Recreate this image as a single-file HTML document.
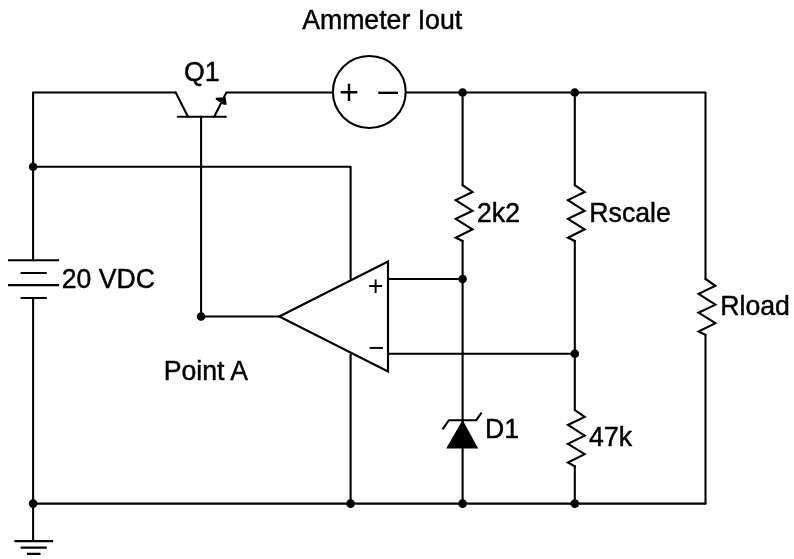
<!DOCTYPE html>
<html>
<head>
<meta charset="utf-8">
<title>Current regulator circuit</title>
<style>
  html, body { margin: 0; padding: 0; background: #ffffff; }
  body { width: 794px; height: 559px; overflow: hidden; }
  svg { display: block; filter: grayscale(1); }
  .w { fill: none; stroke: #000; stroke-width: 2.1; stroke-linecap: round; stroke-linejoin: round; }
  .p { fill: none; stroke: #000; stroke-width: 2.1; stroke-linecap: butt; }
  .z { fill: none; stroke: #000; stroke-width: 2.1; stroke-linecap: butt; stroke-linejoin: miter; stroke-miterlimit: 10; }
  .o { fill: none; stroke: #000; stroke-width: 2.15; stroke-linejoin: miter; stroke-miterlimit: 10; }
  .d { fill: #000; stroke: none; }
  text { font-family: "Liberation Sans", sans-serif; font-size: 26.67px; fill: #000; stroke: #000; stroke-width: 0.45px; stroke-linejoin: round; }
  text.pm { stroke: none; }
</style>
</head>
<body>
<svg width="794" height="559" viewBox="0 0 794 559">
  <rect x="0" y="0" width="794" height="559" fill="#ffffff"/>

  <!-- left rail: top-left corner, battery, ground -->
  <path class="w" d="M175.7 92.5 H33.1 V260.2"/>
  <path class="w" d="M33.1 298 V541"/>
  <!-- battery plates -->
  <path class="p" d="M8.0 260.3 H59.1 M20.6 273 H46.8 M8.0 285.1 H59.1 M20.6 298 H46.8"/>
  <!-- ground -->
  <path class="p" d="M14.3 541.1 H53.1 M20.6 547.6 H46.8 M26.9 553.9 H40.5"/>

  <!-- transistor Q1 -->
  <path class="w" d="M175.7 92.5 L188.0 116.7"/>
  <path class="w" d="M177.8 116.7 H225.9"/>
  <path class="w" d="M214.2 116.7 L226.4 92.5 H333"/>
  <path class="d" d="M215.8 97.8 L225.6 97.2 L226.8 104.7 L223.6 104.8 L219.6 101.9 L215.8 99.6 Z"/>
  <!-- base wire to Point A -->
  <path class="w" d="M201.1 116.7 V316.5 H279"/>

  <!-- op-amp supply wires -->
  <path class="w" d="M33.1 166.7 H350.6 V279"/>
  <path class="w" d="M350.6 354.5 V503.6"/>

  <!-- op-amp -->
  <path class="o" d="M279.3 316.5 L388 261.6 V371.5 Z"/>
  <path class="w" d="M388.5 279 H462.6"/>
  <path class="w" d="M388.5 353.8 H574.8"/>

  <!-- ammeter -->
  <ellipse cx="369.3" cy="92.0" rx="36.4" ry="36.0" fill="none" stroke="#000" stroke-width="2.1"/>
  <path class="w" d="M406 92.5 H705.5 V279"/>

  <!-- 2k2 + zener column -->
  <path class="w" d="M462.6 92.5 V185.1"/>
  <path class="z" d="M462.6 184.6 L462.6 185.1 L472.5 192.0 L455.7 200.1 L472.5 210.8 L455.7 218.9 L472.5 229.3 L455.7 237.7 L462.6 241.0 L462.6 241.5"/>
  <path class="w" d="M462.6 241 V503.6"/>
  <!-- zener -->
  <path class="z" d="M442.5 429.3 L448.9 420.2 H476.3 L481.6 412.5"/>
  <path class="d" d="M462.6 420 L478.2 448.6 H446.2 Z"/>

  <!-- Rscale + 47k column -->
  <path class="w" d="M574.8 92.5 V185.1"/>
  <path class="z" d="M574.8 184.6 L574.8 185.1 L584.7 192.0 L567.9 200.1 L584.7 210.8 L567.9 218.9 L584.7 229.3 L567.9 237.7 L574.8 241.0 L574.8 241.5"/>
  <path class="w" d="M574.8 241 V410.0"/>
  <path class="z" d="M574.8 409.5 L574.8 410.0 L584.7 416.9 L567.9 425.0 L584.7 435.7 L567.9 443.8 L584.7 454.2 L567.9 462.6 L574.8 466.2 L574.8 466.7"/>
  <path class="w" d="M574.8 466.2 V503.6"/>

  <!-- Rload column -->
  <path class="z" d="M705.5 278.4 L705.5 278.9 L715.4 285.8 L698.6 293.9 L715.4 304.6 L698.6 312.7 L715.4 323.1 L698.6 331.5 L705.5 334.8 L705.5 335.3"/>
  <path class="w" d="M705.5 334.8 V503.6"/>

  <!-- bottom rail -->
  <path class="w" d="M33.1 503.6 H705.5"/>

  <!-- junction dots -->
  <circle class="d" cx="33.1" cy="166.7" r="4.3"/>
  <circle class="d" cx="33.1" cy="503.6" r="4.3"/>
  <circle class="d" cx="201.1" cy="316.5" r="4.3"/>
  <circle class="d" cx="462.6" cy="92.5" r="4.3"/>
  <circle class="d" cx="574.8" cy="92.5" r="4.3"/>
  <circle class="d" cx="462.6" cy="279" r="4.3"/>
  <circle class="d" cx="574.8" cy="353.8" r="4.3"/>
  <circle class="d" cx="350.6" cy="503.6" r="4.3"/>
  <circle class="d" cx="462.6" cy="503.6" r="4.3"/>
  <circle class="d" cx="574.8" cy="503.6" r="4.3"/>

  <!-- labels -->
  <text transform="translate(302.2 28.8) scale(1 1.04)">Ammeter Iout</text>
  <text transform="translate(184.0 80.7) scale(1 1.04)">Q1</text>
  <text transform="translate(61.8 288.2) scale(1 1.04)">20 VDC</text>
  <text transform="translate(163.7 380.0) scale(1 1.04)">Point A</text>
  <text transform="translate(477.0 221.8) scale(1 1.025)">2k2</text>
  <text transform="translate(589.3 221.8) scale(1 1.025)">Rscale</text>
  <text transform="translate(720.2 315.0) scale(1 1.01)">Rload</text>
  <text transform="translate(589.1 446.0) scale(1 1.025)">47k</text>
  <text transform="translate(484.9 437.6) scale(1 1.04)">D1</text>
  <!-- polarity marks -->
  <text class="pm" x="339.0" y="103.6" style="font-size:34.3px">+</text>
  <text class="pm" x="378.3" y="101.7" style="font-size:35.5px">–</text>
  <text class="pm" x="367.8" y="294.7" style="font-size:27px">+</text>
  <text class="pm" x="367.9" y="356.6" style="font-size:27.5px">−</text>
</svg>
</body>
</html>
